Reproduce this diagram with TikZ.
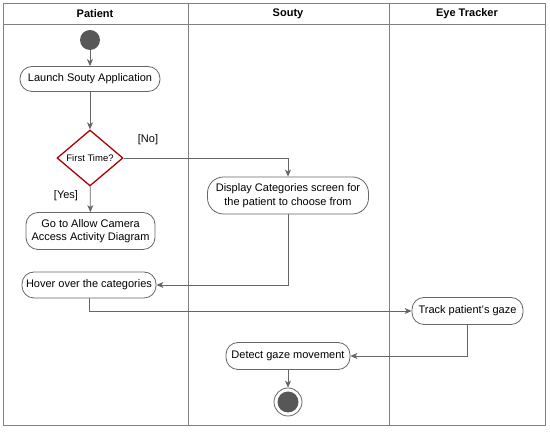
\documentclass[tikz,border=0pt]{standalone}
\usepackage{fontspec}
\setmainfont{Liberation Sans}
\usetikzlibrary{shapes.geometric,arrows.meta}
\definecolor{ln}{HTML}{666666}
\definecolor{fr}{HTML}{808080}
\definecolor{dred}{HTML}{B20000}
\begin{document}
\begin{tikzpicture}[x=1pt,y=-1pt,
  act/.style={draw=ln,line width=0.8pt,rounded corners=12pt,align=center,font=\fontsize{11}{13.5}\selectfont,inner sep=0pt},
  flow/.style={draw=ln,line width=0.8pt,-{Stealth[length=7pt,width=6pt,inset=2pt]}},
  lbl/.style={font=\fontsize{11}{13}\selectfont},
  hdr/.style={font=\bfseries\fontsize{11}{13}\selectfont}]
\useasboundingbox (0,0) rectangle (550,435);
% frame
\draw[fr,line width=0.8pt] (3.5,3.5) rectangle (545,425);
\draw[fr,line width=0.8pt] (3.5,24) -- (545,24);
\draw[fr,line width=0.8pt] (188,3.5) -- (188,425);
\draw[fr,line width=0.8pt] (389,3.5) -- (389,425);
\node[hdr] (h1) at (95,14) {Patient};
\node[hdr] (h2) at (288,14) {Souty};
\node[hdr] (h3) at (467,14) {Eye Tracker};
% nodes
\node[circle,fill=ln!85!black,minimum size=20pt,inner sep=0pt] (start) at (90,40) {};
\node[act,minimum width=140pt,minimum height=25pt] (launch) at (90,79) {Launch Souty Application};
\node[diamond,draw=dred,line width=1.3pt,fill=white,minimum width=66pt,minimum height=56pt,inner sep=0pt,aspect=1.18,font=\fontsize{9.5}{11}\selectfont] (dec) at (90,158) {First Time?};
\node[act,minimum width=129pt,minimum height=37pt] (go) at (90.5,231) {Go to Allow Camera\\Access Activity Diagram};
\node[act,minimum width=161pt,minimum height=37pt,rounded corners=16pt] (disp) at (288,195.5) {Display Categories screen for\\the patient to choose from};
\node[act,minimum width=134pt,minimum height=26pt] (hover) at (89,285) {Hover over the categories};
\node[act,minimum width=111pt,minimum height=27pt] (track) at (467.5,311) {Track patient's gaze};
\node[act,minimum width=124pt,minimum height=27pt] (detect) at (288,356) {Detect gaze movement};
\node[circle,draw=ln,line width=0.8pt,minimum size=28pt,inner sep=0pt] (end) at (288,402) {};
\node[circle,fill=ln!85!black,minimum size=21pt,inner sep=0pt] (endin) at (288,402) {};
\node[lbl] (nolbl) at (148,140) {[No]};
\node[lbl] (yeslbl) at (66,196) {[Yes]};
% edges
\draw[flow] (start) -- (launch);
\draw[flow] (launch) -- (dec);
\draw[flow] (dec) -- (go);
\draw[flow] (dec.east) -| (disp.north);
\draw[flow] (disp.south) |- (hover.east);
\draw[flow] (hover.south) |- (track.west);
\draw[flow] (track.south) |- (detect.east);
\draw[flow] (detect) -- (end);
\end{tikzpicture}
\end{document}
